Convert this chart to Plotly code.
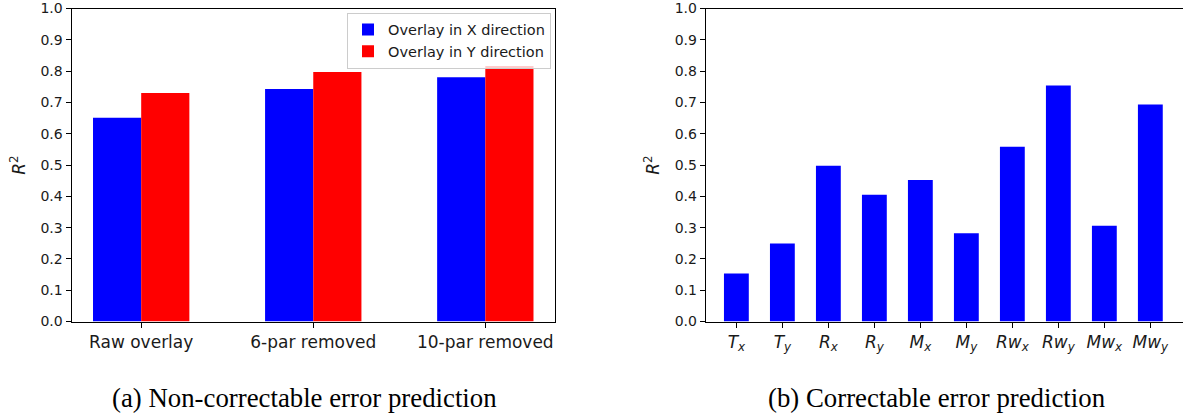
import plotly.graph_objects as go

# ---------------- data ----------------
groups = ["Raw overlay", "6-par removed", "10-par removed"]
series_names = ["Overlay in X direction", "Overlay in Y direction"]
overlay_x_r2 = [0.651, 0.743, 0.780]
overlay_y_r2 = [0.730, 0.797, 0.816]

component_labels = [
    "<i>T<sub>x</sub></i>", "<i>T<sub>y</sub></i>",
    "<i>R<sub>x</sub></i>", "<i>R<sub>y</sub></i>",
    "<i>M<sub>x</sub></i>", "<i>M<sub>y</sub></i>",
    "<i>Rw<sub>x</sub></i>", "<i>Rw<sub>y</sub></i>",
    "<i>Mw<sub>x</sub></i>", "<i>Mw<sub>y</sub></i>",
]
component_r2 = [0.153, 0.249, 0.498, 0.405, 0.452, 0.282, 0.558, 0.754, 0.306, 0.693]

y_ticks = [0.0, 0.1, 0.2, 0.3, 0.4, 0.5, 0.6, 0.7, 0.8, 0.9, 1.0]
y_ticktext = [f"{v:.1f}" for v in y_ticks]
captions = ["(a) Non-correctable error prediction", "(b) Correctable error prediction"]

# ---------------- style ----------------
W, H = 1183, 415
SANS = "DejaVu Sans"
TXT = "#1a1a1a"
BLUE = "#0000ff"
RED = "#ff0000"

def px_x(p):
    return p / W

def px_y(p):
    return 1 - p / H

fig = go.Figure()

fig.add_trace(go.Bar(
    x=groups, y=overlay_x_r2, name=series_names[0],
    marker=dict(color=BLUE, line=dict(width=0)),
    width=0.28, offset=-0.28, xaxis="x", yaxis="y",
))
fig.add_trace(go.Bar(
    x=groups, y=overlay_y_r2, name=series_names[1],
    marker=dict(color=RED, line=dict(width=0)),
    width=0.28, offset=0.0, xaxis="x", yaxis="y",
))
fig.add_trace(go.Bar(
    x=component_labels, y=component_r2, name="Correctable",
    marker=dict(color=BLUE, line=dict(width=0)),
    width=0.54, showlegend=False, xaxis="x2", yaxis="y2",
))

ydom = [px_y(321.5), px_y(8.5)]

common_x = dict(
    showline=True, linecolor="black", linewidth=1, automargin=False,
    ticks="outside", ticklen=5, tickwidth=1, tickcolor="black",
    showgrid=False, zeroline=False, fixedrange=True,
    tickfont=dict(family=SANS, size=17, color=TXT),
)
common_y = dict(
    showline=True, linecolor="black", linewidth=1, automargin=False,
    ticks="outside", ticklen=5, tickwidth=1, tickcolor="black",
    showgrid=False, zeroline=False, range=[0, 1], fixedrange=True,
    tickvals=y_ticks, ticktext=y_ticktext,
    tickfont=dict(family=SANS, size=14, color=TXT),
    title=dict(text="<i>R</i><sup>2</sup>", font=dict(family=SANS, size=17, color=TXT), standoff=10),
)

fig.update_layout(
    width=W, height=H, autosize=False,
    margin=dict(l=0, r=0, t=0, b=0, pad=0),
    paper_bgcolor="white", plot_bgcolor="white",
    barmode="overlay",
    xaxis=dict(common_x, domain=[px_x(71.5), px_x(555)], range=[-0.405, 2.405], mirror=True,
               anchor="y"),
    yaxis=dict(common_y, domain=ydom, mirror=True, anchor="x"),
    xaxis2=dict(common_x, domain=[px_x(705.7), 1.0], range=[-0.667, 9.71], mirror=True,
                anchor="y2"),
    yaxis2=dict(common_y, domain=ydom, mirror=False, anchor="x2"),
    legend=dict(
        x=px_x(551), xanchor="right", y=px_y(12.5), yanchor="top",
        bordercolor="#cccccc", borderwidth=1, bgcolor="rgba(255,255,255,0.8)",
        font=dict(family=SANS, size=14.5, color=TXT),
        itemwidth=30,
    ),
    showlegend=True,
    annotations=[
        dict(text=captions[0], x=px_x(304), y=px_y(398), xref="paper", yref="paper",
             showarrow=False, xanchor="center", yanchor="middle",
             font=dict(family="Liberation Serif", size=26.8, color="#000")),
        dict(text=captions[1], x=px_x(936), y=px_y(398), xref="paper", yref="paper",
             showarrow=False, xanchor="center", yanchor="middle",
             font=dict(family="Liberation Serif", size=26.8, color="#000")),
    ],
)

fig.write_html(
    "out.html",
    config={"displayModeBar": False},
    post_script="document.body.style.margin='0';document.body.style.overflow='hidden';",
)
